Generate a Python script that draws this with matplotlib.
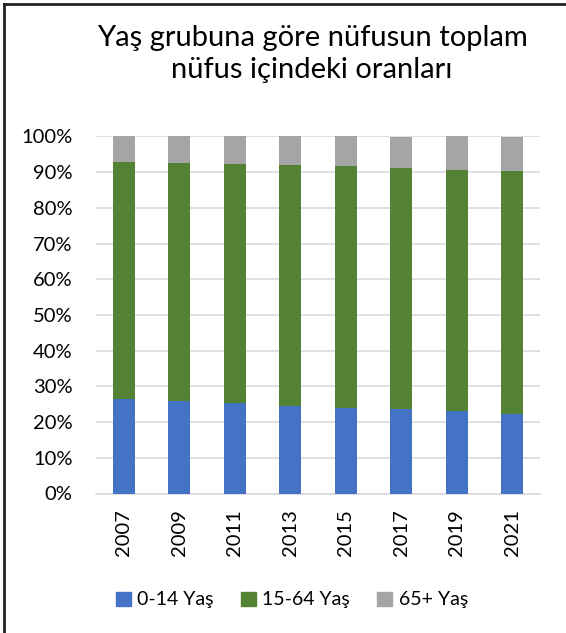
import matplotlib
matplotlib.use("Agg")
import matplotlib.pyplot as plt
from matplotlib.lines import Line2D
from matplotlib.patches import Patch
import numpy as np

years = ["2007", "2009", "2011", "2013", "2015", "2017", "2019", "2021"]
age_0_14 = [26.4, 25.9, 25.3, 24.6, 24.0, 23.6, 23.1, 22.4]
age_65p = [7.2, 7.3, 7.6, 8.0, 8.4, 8.8, 9.3, 9.8]
age_15_64 = [round(100 - a - b, 1) for a, b in zip(age_0_14, age_65p)]
series_names = ["0-14 Yaş", "15-64 Yaş", "65+ Yaş"]
colors = ["#4472C4", "#548235", "#A5A5A5"]
yticks = [0, 10, 20, 30, 40, 50, 60, 70, 80, 90, 100]
title = "Yaş grubuna göre nüfusun toplam\nnüfus içindeki oranları"

plt.rcParams['font.family'] = ['Lato', 'DejaVu Sans']

fig = plt.figure(figsize=(5.66, 6.33), dpi=100)
ax = fig.add_axes([96/566, 1 - 493.5/633, 444/566, 357/633])

x = np.arange(len(years))
w = 0.40
bottom = np.zeros(len(years))
for vals, c in zip([age_0_14, age_15_64, age_65p], colors):
    ax.bar(x, vals, w, bottom=bottom, color=c, zorder=3)
    bottom += np.array(vals)

ax.set_xlim(-0.5, len(years) - 0.5)
ax.set_ylim(0, 100)
ax.set_yticks(yticks)
ax.set_yticklabels([f"{t}%" for t in yticks], fontsize=14.5, color="#000000")
ax.set_xticks(x)
ax.set_xticklabels(years, rotation=90, fontsize=14.5, color="#000000")
ax.tick_params(axis='both', length=0)
ax.tick_params(axis='y', pad=17)
ax.tick_params(axis='x', pad=11)
ax.grid(axis='y', color="#D9D9D9", linewidth=1.2, zorder=0)
for s in ["left", "right", "top"]:
    ax.spines[s].set_visible(False)
ax.spines["bottom"].set_color("#D9D9D9")
ax.spines["bottom"].set_linewidth(1.2)

fig.text(312/566, 1 - 54/633, title, ha="center", va="center",
         fontsize=21, linespacing=1.3, color="#000000")

handles = [Patch(facecolor=c, edgecolor=c) for c in colors]
fig.legend(handles, series_names, loc="center", bbox_to_anchor=(292/566, 1 - 600/633),
           ncol=3, frameon=False, fontsize=14, handlelength=0.75, handleheight=0.75,
           handletextpad=0.35, columnspacing=1.4)

# frame lines on left and top edges
fig.add_artist(Line2D([4/566, 4/566], [0, 1 - 4/633], transform=fig.transFigure,
                      color="#222222", linewidth=2))
fig.add_artist(Line2D([4/566, 1], [1 - 4/633, 1 - 4/633], transform=fig.transFigure,
                      color="#222222", linewidth=2))

fig.savefig("out.png", dpi=100)
